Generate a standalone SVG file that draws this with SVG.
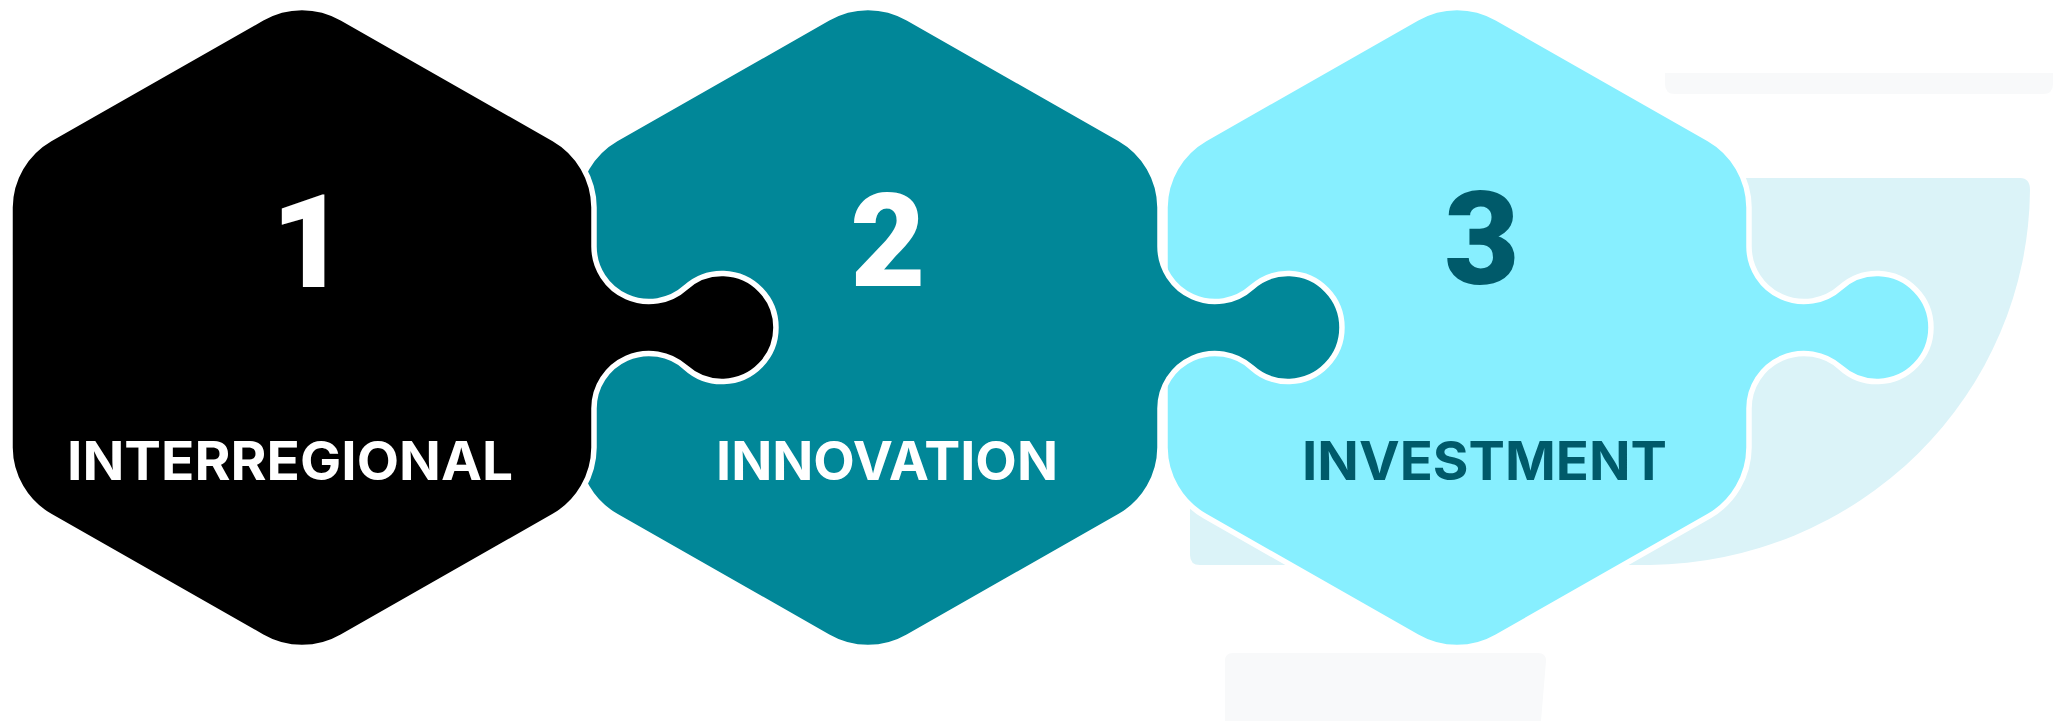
<svg xmlns="http://www.w3.org/2000/svg" xmlns:xlink="http://www.w3.org/1999/xlink" width="2060" height="721" viewBox="0 0 2060 721">
  <style>
    .piece { stroke: #FFFFFF; stroke-width: 5.5; stroke-linejoin: round; }
    .num { font-family: Roboto, "Liberation Sans", sans-serif; font-weight: 900; font-size: 130px; text-anchor: middle; }
    .label { font-family: Inter, "Liberation Sans", sans-serif; font-weight: 700; font-size: 53px; }
    .light { fill: #FFFFFF; }
    .dark { fill: #005A6A; }
  </style>
  <defs>
    <path id="piece" d="M -40,-309.3 A 80 80 0 0 1 40,-309.3 L 252,-188.7 A 80 80 0 0 1 292,-120 L 292,-81 A 55 55 0 0 0 383.8,-40.1 A 54 54 0 1 1 383.8,40.1 A 55 55 0 0 0 292,81 L 292,120 A 80 80 0 0 1 252,188.7 L 40,309.3 A 80 80 0 0 1 -40,309.3 L -252,188.7 A 80 80 0 0 1 -292,120 L -292,-120 A 80 80 0 0 1 -252,-188.7 Z"/>
  </defs>
  <rect width="2060" height="721" fill="#FFFFFF"/>
  <g id="background">
    <path d="M1665,73 H2053 V84 Q2053,94 2043,94 H1675 Q1665,94 1665,84 Z" fill="#F8F9FA"/>
    <path d="M1233,653 H1538 Q1546,653 1546,661 L1541,721 H1225 V661 Q1225,653 1233,653 Z" fill="#F8F9FA"/>
    <path d="M1200,178 H2020 Q2030,178 2030,190 A 385 378 0 0 1 1650,565 H1200 Q1190,565 1190,555 V188 Q1190,178 1200,178 Z" fill="#DBF3F8"/>
  </g>
  <g id="connectors"></g>
  <g id="node3">
    <use xlink:href="#piece" href="#piece" class="piece" transform="translate(1457,327.5)" fill="#87EFFF"/>
    <text class="num dark" x="1482" y="284">3</text>
    <text class="label dark" x="1302" y="480" textLength="365" lengthAdjust="spacingAndGlyphs">INVESTMENT</text>
  </g>
  <g id="node2">
    <use xlink:href="#piece" href="#piece" class="piece" transform="translate(868,327.5)" fill="#018798"/>
    <text class="num light" x="888" y="286">2</text>
    <text class="label light" x="716" y="480" textLength="342" lengthAdjust="spacingAndGlyphs">INNOVATION</text>
  </g>
  <g id="node1">
    <use xlink:href="#piece" href="#piece" class="piece" transform="translate(302,327.5)" fill="#000000"/>
    <text class="num light" x="309" y="287">1</text>
    <text class="label light" x="67" y="480" textLength="446" lengthAdjust="spacingAndGlyphs">INTERREGIONAL</text>
  </g>
</svg>
